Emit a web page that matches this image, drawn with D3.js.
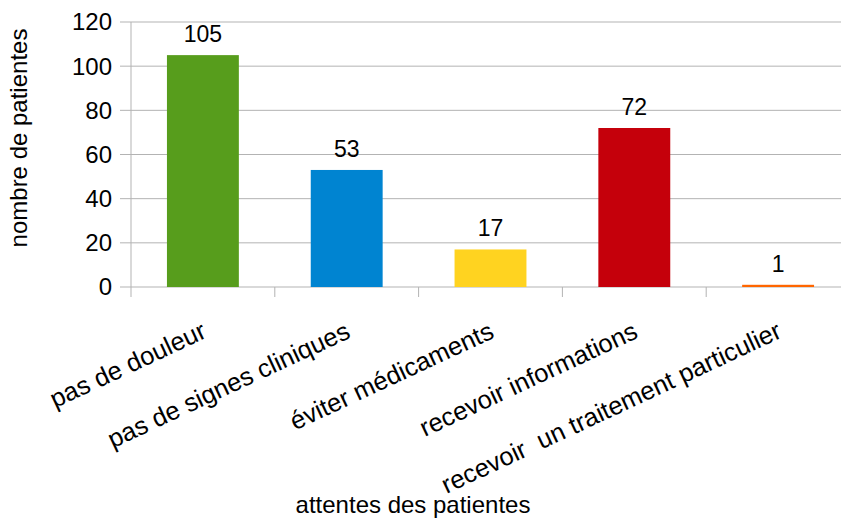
<!DOCTYPE html>
<html>
<head>
<meta charset="utf-8">
<script src="https://cdn.jsdelivr.net/npm/d3@7"></script>
<style>
  body { margin: 0; background: #fff; }
  text { font-family: "Liberation Sans", Arial, sans-serif; fill: #000; }
</style>
</head>
<body>
<div id="chart"></div>
<script>
// data
const categories = ["pas de douleur", "pas de signes cliniques", "éviter médicaments",
                    "recevoir informations", "recevoir  un traitement particulier"];
const values = [105, 53, 17, 72, 1];
const barColors = ["#579d1c", "#0084d1", "#ffd320", "#c5000b", "#ff6600"];
const yTicks = [0, 20, 40, 60, 80, 100, 120];

const W = 841, H = 519;
const margin = {top: 22, right: -9, bottom: 232, left: 131};
const width = W - margin.left - margin.right,
      height = H - margin.top - margin.bottom;

const svg = d3.select("#chart").append("svg")
    .attr("width", W).attr("height", H);
const g = svg.append("g")
    .attr("transform", `translate(${margin.left},${margin.top})`);

const x = d3.scaleBand().domain(categories).range([0, width]).padding(0);
const y = d3.scaleLinear().domain([0, 120]).range([height, 0]);

// horizontal grid lines (extend left as tick marks)
g.selectAll(".grid").data(yTicks).join("line")
    .attr("x1", -11).attr("x2", width)
    .attr("y1", d => y(d)).attr("y2", d => y(d))
    .attr("stroke", "#b3b3b3").attr("stroke-width", 1);

// y axis line
g.append("line")
    .attr("x1", 0).attr("x2", 0).attr("y1", 0).attr("y2", height + 10)
    .attr("stroke", "#b3b3b3");

// category separators below the axis
const bounds = categories.map(c => x(c)).concat([width]);
g.selectAll(".sep").data(bounds.slice(1)).join("line")
    .attr("x1", d => d).attr("x2", d => d)
    .attr("y1", height).attr("y2", height + 10)
    .attr("stroke", "#b3b3b3");

// y tick labels
g.selectAll(".ylab").data(yTicks).join("text")
    .attr("x", -19).attr("y", d => y(d))
    .attr("dy", "0.35em")
    .attr("text-anchor", "end")
    .style("font-size", "24px")
    .text(d => d);

// bars
const data = categories.map((c, i) => ({cat: c, value: values[i], color: barColors[i]}));
const bw = x.bandwidth() / 2;
g.selectAll(".bar").data(data).join("rect")
    .attr("x", d => x(d.cat) + x.bandwidth() / 2 - bw / 2)
    .attr("width", bw)
    .attr("y", d => y(d.value))
    .attr("height", d => y(0) - y(d.value))
    .attr("fill", d => d.color);

// value labels
g.selectAll(".val").data(data).join("text")
    .attr("x", d => x(d.cat) + x.bandwidth() / 2)
    .attr("y", d => y(d.value) - 13)
    .attr("text-anchor", "middle")
    .style("font-size", "23px")
    .text(d => d.value);

// rotated category labels
g.selectAll(".xlab").data(categories).join("text")
    .attr("text-anchor", "end")
    .attr("transform", d => `translate(${x(d) + x.bandwidth() / 2 + 5},${height + 50}) rotate(-25)`)
    .style("font-size", "25.5px")
    .style("white-space", "pre")
    .attr("xml:space", "preserve")
    .text(d => d);

// axis titles
svg.append("text")
    .attr("x", 413).attr("y", 513)
    .attr("text-anchor", "middle")
    .style("font-size", "24px")
    .text("attentes des patientes");

svg.append("text")
    .attr("transform", "translate(27,138) rotate(-90)")
    .attr("text-anchor", "middle")
    .style("font-size", "24px")
    .text("nombre de patientes");
</script>
</body>
</html>
